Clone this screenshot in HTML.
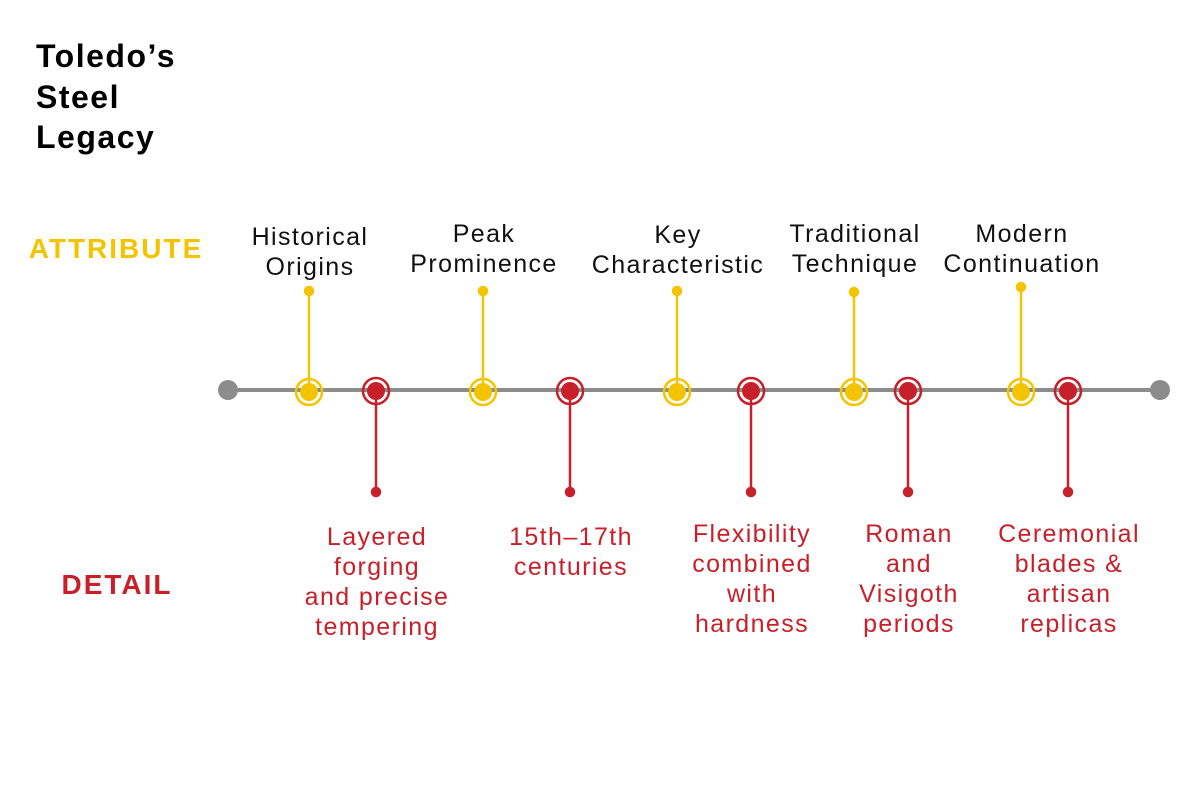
<!DOCTYPE html>
<html><head><meta charset="utf-8"><style>
body{margin:0;background:#fff;width:1200px;height:800px;overflow:hidden}
svg text{font-family:"Liberation Sans",sans-serif}
</style></head><body>
<svg width="1200" height="800" xmlns="http://www.w3.org/2000/svg">
<g font-weight="bold" font-size="32" fill="#000" letter-spacing="1.5">
<text x="36" y="67">Toledo’s</text><text x="36" y="108">Steel</text><text x="36" y="148">Legacy</text>
</g>
<text x="116" y="258" text-anchor="middle" font-size="28" font-weight="bold" fill="#f5c400" letter-spacing="2">ATTRIBUTE</text>
<text x="117" y="594" text-anchor="middle" font-size="28" font-weight="bold" fill="#c8202a" letter-spacing="2">DETAIL</text>
<line x1="228" y1="390" x2="1160" y2="390" stroke="#8c8c8c" stroke-width="4"/>
<circle cx="228" cy="390" r="10" fill="#8c8c8c"/><circle cx="1160" cy="390" r="10" fill="#8c8c8c"/>
<g stroke="#f5c400" stroke-width="2.5" fill="#f5c400">
<line x1="309" y1="291" x2="309" y2="390"/><circle cx="309" cy="291" r="4"/>
<line x1="483" y1="291" x2="483" y2="390"/><circle cx="483" cy="291" r="4"/>
<line x1="677" y1="291" x2="677" y2="390"/><circle cx="677" cy="291" r="4"/>
<line x1="854" y1="292" x2="854" y2="390"/><circle cx="854" cy="292" r="4"/>
<line x1="1021" y1="287" x2="1021" y2="390"/><circle cx="1021" cy="287" r="4"/>
</g>
<g fill="#f5c400">
<circle cx="309" cy="392" r="9"/><circle cx="483" cy="392" r="9"/><circle cx="677" cy="392" r="9"/><circle cx="854" cy="392" r="9"/><circle cx="1021" cy="392" r="9"/>
</g>
<g fill="none" stroke="#f5c400" stroke-width="2.5">
<circle cx="309" cy="392" r="13"/><circle cx="483" cy="392" r="13"/><circle cx="677" cy="392" r="13"/><circle cx="854" cy="392" r="13"/><circle cx="1021" cy="392" r="13"/>
</g>
<g stroke="#c8202a" stroke-width="2.5" fill="#c8202a">
<line x1="376" y1="390" x2="376" y2="492"/><circle cx="376" cy="492" r="4"/>
<line x1="570" y1="390" x2="570" y2="492"/><circle cx="570" cy="492" r="4"/>
<line x1="751" y1="390" x2="751" y2="492"/><circle cx="751" cy="492" r="4"/>
<line x1="908" y1="390" x2="908" y2="492"/><circle cx="908" cy="492" r="4"/>
<line x1="1068" y1="390" x2="1068" y2="492"/><circle cx="1068" cy="492" r="4"/>
<circle cx="376" cy="391" r="9" stroke="none"/><circle cx="570" cy="391" r="9" stroke="none"/><circle cx="751" cy="391" r="9" stroke="none"/><circle cx="908" cy="391" r="9" stroke="none"/><circle cx="1068" cy="391" r="9" stroke="none"/>
</g>
<g fill="none" stroke="#c8202a" stroke-width="2.5">
<circle cx="376" cy="391" r="13"/><circle cx="570" cy="391" r="13"/><circle cx="751" cy="391" r="13"/><circle cx="908" cy="391" r="13"/><circle cx="1068" cy="391" r="13"/>
</g>
<g font-size="25" fill="#111" text-anchor="middle" letter-spacing="1.4">
<text x="310" y="245">Historical</text><text x="310" y="275">Origins</text>
<text x="484" y="242">Peak</text><text x="484" y="272">Prominence</text>
<text x="678" y="243">Key</text><text x="678" y="273">Characteristic</text>
<text x="855" y="242">Traditional</text><text x="855" y="272">Technique</text>
<text x="1022" y="242">Modern</text><text x="1022" y="272">Continuation</text>
</g>
<g font-size="25" fill="#c8202a" text-anchor="middle" letter-spacing="1.4">
<text x="377" y="545">Layered</text><text x="377" y="575">forging</text><text x="377" y="605">and precise</text><text x="377" y="635">tempering</text>
<text x="571" y="545">15th–17th</text><text x="571" y="575">centuries</text>
<text x="752" y="542">Flexibility</text><text x="752" y="572">combined</text><text x="752" y="602">with</text><text x="752" y="632">hardness</text>
<text x="909" y="542">Roman</text><text x="909" y="572">and</text><text x="909" y="602">Visigoth</text><text x="909" y="632">periods</text>
<text x="1069" y="542">Ceremonial</text><text x="1069" y="572">blades &amp;</text><text x="1069" y="602">artisan</text><text x="1069" y="632">replicas</text>
</g>
</svg>
</body></html>
